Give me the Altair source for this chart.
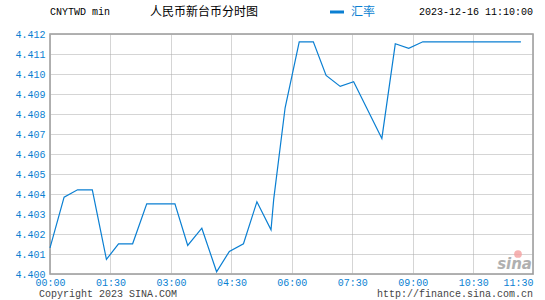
import altair as alt
import pandas as pd

# ---- data ----
minutes = [0, 21, 41, 63, 84, 102, 123, 144, 186, 205, 226, 248, 267, 288, 308,
           329, 333, 350, 371, 392, 411, 432, 452, 494, 514, 534, 555, 701]
rates = [4.40131, 4.40384, 4.40421, 4.40421, 4.40073, 4.40151, 4.40151, 4.40351,
         4.40351, 4.40143, 4.40229, 4.40011, 4.40113, 4.40151, 4.40361, 4.40221,
         4.40373, 4.40831, 4.41161, 4.41161, 4.40993, 4.40938, 4.40961, 4.40678,
         4.41151, 4.41128, 4.41161, 4.41161]

x_tick_values = [0, 90, 180, 270, 360, 450, 540, 630, 719]
x_tick_labels = ["00:00", "01:30", "03:00", "04:30", "06:00", "07:30", "09:00", "10:30", "11:30"]
y_tick_values = [4.400, 4.401, 4.402, 4.403, 4.404, 4.405, 4.406, 4.407,
                 4.408, 4.409, 4.410, 4.411, 4.412]

symbol_text = "CNYTWD min"
title_text = "人民币新台币分时图"
legend_text = "汇率"
stamp_text = "2023-12-16 11:10:00"
copyright_text = "Copyright 2023 SINA.COM"
url_text = "http://finance.sina.com.cn"

BLUE = "#0a7fd2"
MONO = "Liberation Mono"
CJK = "Noto Sans CJK SC"

df = pd.DataFrame({"m": minutes, "v": rates})

label_expr = "".join(
    f"datum.value == {v} ? '{l}' : " for v, l in zip(x_tick_values, x_tick_labels)
) + "''"

W, H = 483, 240

line = alt.Chart(df).mark_line(color=BLUE, strokeWidth=1.2, interpolate="linear").encode(
    x=alt.X("m:Q",
            scale=alt.Scale(domain=[0, 719], nice=False, zero=False),
            axis=alt.Axis(values=x_tick_values, labelExpr=label_expr, title=None,
                          grid=True, gridColor="#aaaaaa", gridDash=[1, 1], gridWidth=1,
                          ticks=False, domain=False, labelColor=BLUE, labelFont=MONO,
                          labelFontSize=10, labelPadding=3,
                          labelAlign=alt.condition("datum.value >= 719",
                                                   alt.value("right"), alt.value("center")))),
    y=alt.Y("v:Q",
            scale=alt.Scale(domain=[4.400, 4.412], nice=False, zero=False),
            axis=alt.Axis(values=y_tick_values, format=".3f", title=None,
                          grid=True, gridColor="#aaaaaa", gridDash=[1, 1], gridWidth=1,
                          ticks=False, domain=False, labelColor=BLUE, labelFont=MONO,
                          labelFontSize=10, labelPadding=5)),
)

one = alt.Data(values=[{"k": 0}])


def txt(text, x, y, color="#000000", font=MONO, size=10, align="left", **kw):
    return alt.Chart(one).mark_text(text=text, color=color, font=font, fontSize=size,
                                    align=align, baseline="middle", **kw).encode(
        x=alt.value(x), y=alt.value(y))


header_y = -22
layers = [
    line,
    txt(symbol_text, 0, header_y),
    txt(title_text, 100, header_y, font=CJK, size=12),
    alt.Chart(one).mark_rule(color=BLUE, strokeWidth=3).encode(
        x=alt.value(280), x2=alt.value(294), y=alt.value(header_y)),
    txt(legend_text, 301, header_y, color=BLUE, font=CJK, size=12),
    txt(stamp_text, W, header_y, align="right"),
    txt(copyright_text, -11, 259.5, color="#444444"),
    txt(url_text, W, 259.5, color="#444444", align="right"),
    alt.Chart(one).mark_point(filled=True, color="#f4a0a0", size=60, opacity=0.8).encode(
        x=alt.value(468), y=alt.value(220)),
    txt("sina", W - 1, 230, color="#b0b0b0", font="DejaVu Sans", size=15, align="right",
        fontStyle="italic", fontWeight="bold"),
]

chart = alt.layer(*layers).properties(
    width=W, height=H,
    autosize=alt.AutoSizeParams(type="none"),
    padding={"left": 50, "top": 34, "right": 12, "bottom": 26},
    background="#ffffff",
).configure_view(stroke="#999999", strokeWidth=1.5)

chart.save("out.html", embed_options={"renderer": "svg", "actions": False})
